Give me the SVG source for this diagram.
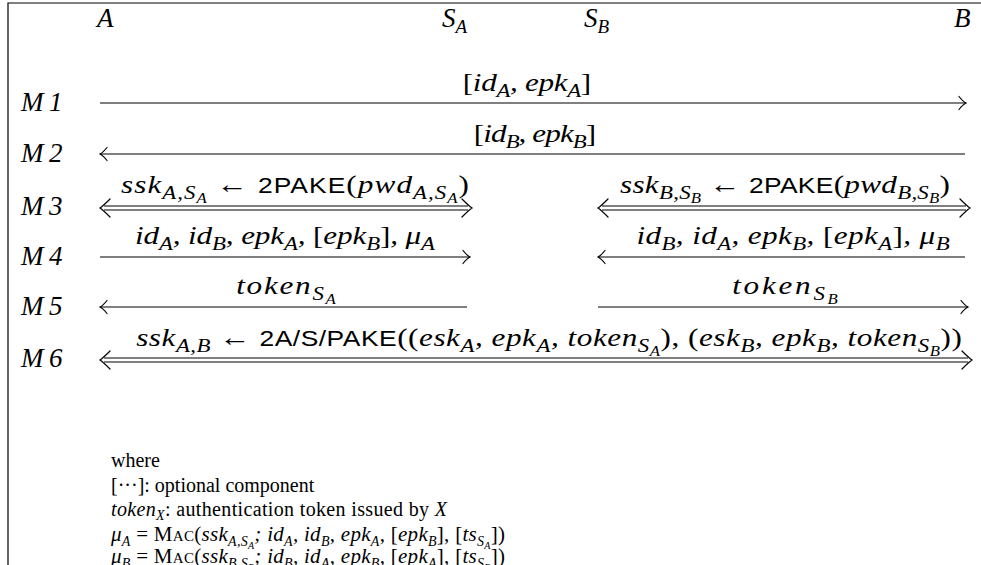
<svg xmlns="http://www.w3.org/2000/svg" width="981" height="565" viewBox="0 0 981 565">
<style>
text{font-family:"Liberation Serif","Times New Roman",serif;font-size:20px;fill:#000}
.t{font-size:27px}
.w{font-size:26px}
.m{font-style:italic}
.c{text-anchor:middle}
.sb{font-size:14px}
.ss{font-size:10px}
.t .sb,.w .sb{font-size:19px}
.t .ss,.w .ss{font-size:14px}
.up{font-style:normal}
.sf{font-family:"Liberation Sans",Arial,sans-serif;font-style:normal;font-size:22px}
.sc{font-style:normal;font-size:15px}
.lg{font-size:21px}
.ln{stroke:#000;stroke-width:1.2;fill:none}
.hd{stroke:#000;stroke-width:1.2;fill:none;stroke-linecap:round}
</style>
<defs>
<marker id="ah" markerUnits="userSpaceOnUse" markerWidth="20" markerHeight="20" viewBox="-10 -10 20 20" refX="0" refY="0" orient="auto" overflow="visible">
<path d="M-7,-6.5 Q-3,-1.5 0,0 Q-3,1.5 -7,6.5" class="hd"/>
</marker>
</defs>
<rect width="981" height="565" fill="#fff"/>
<g id="frame"><path d="M8,565 V3 H981" class="ln"/></g>

<g id="A"><text x="97" y="27" class="m t">A</text></g>
<g id="SA"><text x="442" y="27" class="m t">S<tspan class="sb" dy="6">A</tspan></text></g>
<g id="SB"><text x="584" y="27" class="m t">S<tspan class="sb" dy="6">B</tspan></text></g>
<g id="B"><text x="954" y="27" class="m t">B</text></g>

<g id="steps">
<text x="21" y="111" class="m t">M<tspan x="49">1</tspan></text>
<text x="21" y="162" class="m t">M<tspan x="49">2</tspan></text>
<text x="21" y="215" class="m t">M<tspan x="49">3</tspan></text>
<text x="21" y="265" class="m t">M<tspan x="49">4</tspan></text>
<text x="21" y="315" class="m t">M<tspan x="49">5</tspan></text>
<text x="21" y="367" class="m t">M<tspan x="49">6</tspan></text>
</g>

<g id="connectors">
<line x1="100" y1="103" x2="966" y2="103" class="ln" marker-end="url(#ah)"/>
<line x1="965" y1="154" x2="100" y2="154" class="ln" marker-end="url(#ah)"/>
<path d="M104,206 H468 M104,210 H468" class="ln"/>
<path d="M110,199 Q103,206 100,208 Q103,210 110,217 M462,199 Q469,206 472,208 Q469,210 462,217" class="hd"/>
<path d="M602,206 H966 M602,210 H966" class="ln"/>
<path d="M608,199 Q601,206 598,208 Q601,210 608,217 M960,199 Q967,206 970,208 Q967,210 960,217" class="hd"/>
<line x1="100" y1="257" x2="470" y2="257" class="ln" marker-end="url(#ah)"/>
<line x1="965" y1="257" x2="598" y2="257" class="ln" marker-end="url(#ah)"/>
<line x1="467" y1="307" x2="100" y2="307" class="ln" marker-end="url(#ah)"/>
<line x1="598" y1="307" x2="968" y2="307" class="ln" marker-end="url(#ah)"/>
<path d="M104,358 H968 M104,362 H968" class="ln"/>
<path d="M110,351 Q103,358 100,360 Q103,362 110,369 M962,351 Q969,358 972,360 Q969,362 962,369" class="hd"/>
</g>

<g id="labels">
<text transform="translate(527,91) scale(1.2,1)" class="m c w" textLength="107" lengthAdjust="spacing"><tspan class="up">[</tspan>id<tspan class="sb" dy="6">A</tspan><tspan dy="-6">, epk</tspan><tspan class="sb" dy="6">A</tspan><tspan dy="-6" class="up">]</tspan></text>
<text transform="translate(535,142) scale(1.2,1)" class="m c w" textLength="102" lengthAdjust="spacing"><tspan class="up">[</tspan>id<tspan class="sb" dy="6">B</tspan><tspan dy="-6">, epk</tspan><tspan class="sb" dy="6">B</tspan><tspan dy="-6" class="up">]</tspan></text>

<text transform="translate(295,193) scale(1.2,1)" class="m c w" textLength="290" lengthAdjust="spacing">ssk<tspan class="sb" dy="6">A,S</tspan><tspan class="ss" dy="4">A</tspan><tspan dy="-10" class="up"> ← </tspan><tspan class="sf">2PAKE</tspan><tspan class="up">(</tspan>pwd<tspan class="sb" dy="6">A,S</tspan><tspan class="ss" dy="4">A</tspan><tspan dy="-10" class="up">)</tspan></text>
<text transform="translate(785,193) scale(1.2,1)" class="m c w" textLength="275" lengthAdjust="spacing">ssk<tspan class="sb" dy="6">B,S</tspan><tspan class="ss" dy="4">B</tspan><tspan dy="-10" class="up"> ← </tspan><tspan class="sf">2PAKE</tspan><tspan class="up">(</tspan>pwd<tspan class="sb" dy="6">B,S</tspan><tspan class="ss" dy="4">B</tspan><tspan dy="-10" class="up">)</tspan></text>

<text transform="translate(285,244) scale(1.2,1)" class="m c w" textLength="250" lengthAdjust="spacing">id<tspan class="sb" dy="6">A</tspan><tspan dy="-6">, id</tspan><tspan class="sb" dy="6">B</tspan><tspan dy="-6">, epk</tspan><tspan class="sb" dy="6">A</tspan><tspan dy="-6">, </tspan><tspan class="up">[</tspan>epk<tspan class="sb" dy="6">B</tspan><tspan dy="-6" class="up">]</tspan>, μ<tspan class="sb" dy="6">A</tspan></text>
<text transform="translate(793,244) scale(1.2,1)" class="m c w" textLength="261" lengthAdjust="spacing">id<tspan class="sb" dy="6">B</tspan><tspan dy="-6">, id</tspan><tspan class="sb" dy="6">A</tspan><tspan dy="-6">, epk</tspan><tspan class="sb" dy="6">B</tspan><tspan dy="-6">, </tspan><tspan class="up">[</tspan>epk<tspan class="sb" dy="6">A</tspan><tspan dy="-6" class="up">]</tspan>, μ<tspan class="sb" dy="6">B</tspan></text>

<text transform="translate(286,294) scale(1.2,1)" class="m c w" textLength="83" lengthAdjust="spacing">token<tspan class="sb" dy="6">S</tspan><tspan class="ss" dy="4">A</tspan></text>
<text transform="translate(785,294) scale(1.2,1)" class="m c w" textLength="88" lengthAdjust="spacing">token<tspan class="sb" dy="6">S</tspan><tspan class="ss" dy="4">B</tspan></text>

<text transform="translate(549,346) scale(1.2,1)" class="m c w" textLength="688" lengthAdjust="spacing">ssk<tspan class="sb" dy="6">A,B</tspan><tspan dy="-6" class="up"> ← </tspan><tspan class="sf">2A/S/PAKE</tspan><tspan class="up">((</tspan>esk<tspan class="sb" dy="6">A</tspan><tspan dy="-6">, epk</tspan><tspan class="sb" dy="6">A</tspan><tspan dy="-6">, token</tspan><tspan class="sb" dy="6">S</tspan><tspan class="ss" dy="4">A</tspan><tspan dy="-10" class="up">), (</tspan>esk<tspan class="sb" dy="6">B</tspan><tspan dy="-6">, epk</tspan><tspan class="sb" dy="6">B</tspan><tspan dy="-6">, token</tspan><tspan class="sb" dy="6">S</tspan><tspan class="ss" dy="4">B</tspan><tspan dy="-10" class="up">))</tspan></text>
</g>

<g id="legend">
<text x="111" y="467">where</text>
<text x="111" y="492">[···]: optional component</text>
<text x="111" y="516" textLength="336" lengthAdjust="spacing"><tspan class="m">token</tspan><tspan class="m sb" dy="4">X</tspan><tspan dy="-4">: authentication token issued by </tspan><tspan class="m">X</tspan></text>
<text x="111" y="541" class="m lg" textLength="394" lengthAdjust="spacing">μ<tspan class="sb" dy="5">A</tspan><tspan dy="-5" class="up"> = M</tspan><tspan class="sc">AC</tspan><tspan class="up">(</tspan>ssk<tspan class="sb" dy="5">A,S</tspan><tspan class="ss" dy="3">A</tspan><tspan dy="-8">; id</tspan><tspan class="sb" dy="5">A</tspan><tspan dy="-5">, id</tspan><tspan class="sb" dy="5">B</tspan><tspan dy="-5">, epk</tspan><tspan class="sb" dy="5">A</tspan><tspan dy="-5">, </tspan><tspan class="up">[</tspan>epk<tspan class="sb" dy="5">B</tspan><tspan dy="-5" class="up">], [</tspan>ts<tspan class="sb" dy="5">S</tspan><tspan class="ss" dy="3">A</tspan><tspan dy="-8" class="up">])</tspan></text>
<text x="111" y="563" class="m lg" textLength="394" lengthAdjust="spacing">μ<tspan class="sb" dy="5">B</tspan><tspan dy="-5" class="up"> = M</tspan><tspan class="sc">AC</tspan><tspan class="up">(</tspan>ssk<tspan class="sb" dy="5">B,S</tspan><tspan class="ss" dy="3">B</tspan><tspan dy="-8">; id</tspan><tspan class="sb" dy="5">B</tspan><tspan dy="-5">, id</tspan><tspan class="sb" dy="5">A</tspan><tspan dy="-5">, epk</tspan><tspan class="sb" dy="5">B</tspan><tspan dy="-5">, </tspan><tspan class="up">[</tspan>epk<tspan class="sb" dy="5">A</tspan><tspan dy="-5" class="up">], [</tspan>ts<tspan class="sb" dy="5">S</tspan><tspan class="ss" dy="3">B</tspan><tspan dy="-8" class="up">])</tspan></text>
</g>
</svg>
